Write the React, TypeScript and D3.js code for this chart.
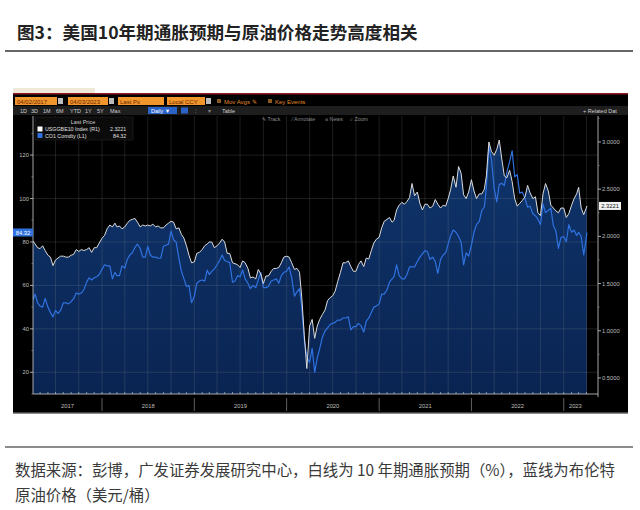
import React from 'react';
import * as d3 from 'd3';

const TITLE = '图3：美国10年期通胀预期与原油价格走势高度相关';
const NOTE_1 = '数据来源：彭博，广发证券发展研究中心，白线为 10 年期通胀预期（%），蓝线为布伦特';
const NOTE_2 = '原油价格（美元/桶）';

const START = '2017-04-03';
const END = '2023-04-03';
const SAMPLE_DAYS = [1, 11, 21];
const yearLabels = ['2017', '2018', '2019', '2020', '2021', '2022', '2023'];
const leftTicks = [20, 40, 60, 80, 100, 120];
const rightTicks = [0.5, 1.0, 1.5, 2.0, 2.5, 3.0];
const legendNames = ['USGGBE10 Index  (R1)', 'CO1 Comdty  (L1)'];

// Brent (CO1 Comdty), USD/bbl, sampled on the 1st / 11th / 21st of each month
const brent2017 = [53.5, 56, 52, 50.5, 50, 54, 50, 47.5, 45.5, 48.5, 47, 48.5, 52, 52, 51.5, 52.5, 54, 56.5, 56, 56.5, 58, 61.5, 63.5, 62.5, 63.5, 64, 65];
const brent2018 = [67.5, 69.5, 69, 69, 63, 66, 64.5, 64.5, 69, 68, 72, 74, 75, 77.5, 79, 77, 73, 73, 78, 74, 73, 73, 72.5, 72.5, 78, 78.5, 79, 85, 81, 80, 72.5, 66.5, 63, 59.5, 60, 52];
const brent2019 = [55, 61, 62, 62.5, 62, 67, 65, 66.5, 67.5, 69.5, 71.5, 74, 71.5, 71, 70.5, 61.5, 62, 64.5, 64, 67, 63, 61, 58.5, 60, 59, 62.5, 66, 59, 59, 59.5, 62, 62.5, 63, 61, 64.5, 66];
const brent2020 = [66.5, 68.5, 63.5, 55, 57, 58.5, 50, 35, 27, 24.5, 31, 20, 26.5, 31, 36, 39, 40.5, 42, 42.5, 43, 44, 44, 45, 45, 45.5, 39.5, 41, 41, 42.5, 41.5, 38.5, 43.5, 45, 47.5, 50, 50.5];
const brent2021 = [51.5, 56, 56, 58, 61.5, 63, 64, 69.5, 64.5, 63, 63, 65, 68.5, 68.5, 68.5, 71, 73, 74.5, 76, 75.5, 72, 73, 71, 65.5, 72, 74, 75, 79, 83, 85.5, 84.5, 82.5, 80, 69.5, 75, 73.5];
const brent2022 = [78.5, 84.5, 88, 89.5, 94.5, 96, 105, 124, 118, 104.5, 98.5, 106.5, 107, 106, 112, 117, 122, 110, 111, 102.5, 103, 100, 96, 96.5, 93, 92, 90.5, 88, 97.5, 93.5, 94.5, 95.5, 87.5, 85, 77, 82];
const brent2023 = [82.5, 80.1, 88, 84.5, 85.5, 83, 84.5, 82.5, 74];
const brentLast = 84.32;

// 10Y breakeven (USGGBE10 Index), %, same sampling
const bei2017 = [1.95, 1.92, 1.88, 1.87, 1.9, 1.85, 1.8, 1.78, 1.69, 1.75, 1.77, 1.79, 1.79, 1.78, 1.78, 1.8, 1.81, 1.86, 1.84, 1.86, 1.85, 1.86, 1.88, 1.83, 1.88, 1.88, 1.93];
const bei2018 = [1.98, 2.01, 2.08, 2.12, 2.1, 2.14, 2.1, 2.11, 2.08, 2.1, 2.14, 2.17, 2.18, 2.19, 2.15, 2.1, 2.12, 2.11, 2.12, 2.11, 2.13, 2.1, 2.11, 2.09, 2.09, 2.12, 2.14, 2.16, 2.15, 2.08, 2.09, 2.02, 1.98, 1.9, 1.8, 1.72];
const bei2019 = [1.73, 1.82, 1.83, 1.86, 1.9, 1.92, 1.94, 1.94, 1.88, 1.9, 1.93, 1.97, 1.94, 1.82, 1.82, 1.72, 1.71, 1.7, 1.67, 1.74, 1.72, 1.66, 1.56, 1.57, 1.55, 1.65, 1.6, 1.5, 1.58, 1.58, 1.63, 1.66, 1.66, 1.67, 1.72, 1.78];
const bei2020 = [1.79, 1.78, 1.72, 1.65, 1.66, 1.62, 1.35, 0.95, 0.6, 1.05, 1.12, 0.92, 1.05, 1.12, 1.17, 1.22, 1.32, 1.35, 1.37, 1.42, 1.52, 1.62, 1.72, 1.72, 1.74, 1.68, 1.63, 1.63, 1.7, 1.74, 1.68, 1.77, 1.76, 1.85, 1.93, 1.97];
const bei2021 = [1.99, 2.09, 2.16, 2.18, 2.2, 2.15, 2.17, 2.28, 2.33, 2.36, 2.34, 2.37, 2.41, 2.56, 2.43, 2.47, 2.35, 2.28, 2.34, 2.34, 2.3, 2.32, 2.39, 2.34, 2.3, 2.33, 2.32, 2.4, 2.5, 2.64, 2.52, 2.74, 2.67, 2.44, 2.4, 2.47];
const bei2022 = [2.6, 2.48, 2.4, 2.45, 2.45, 2.5, 2.64, 3.0, 2.9, 2.86, 2.92, 3.02, 2.82, 2.64, 2.62, 2.7, 2.58, 2.4, 2.32, 2.35, 2.38, 2.42, 2.54, 2.46, 2.4, 2.42, 2.25, 2.22, 2.45, 2.56, 2.48, 2.33, 2.3, 2.27, 2.25, 2.3];
const bei2023 = [2.3, 2.2, 2.24, 2.33, 2.4, 2.45, 2.52, 2.3, 2.23];
const beiLast = 2.3221;

const brent = [...brent2017, ...brent2018, ...brent2019, ...brent2020, ...brent2021, ...brent2022, ...brent2023, brentLast];
const bei = [...bei2017, ...bei2018, ...bei2019, ...bei2020, ...bei2021, ...bei2022, ...bei2023, beiLast];

const parse = d3.timeParse('%Y-%m-%d');

function buildDates(): Date[] {
  const s = parse(START) as Date;
  const e = parse(END) as Date;
  const months = d3.timeMonth.range(new Date(s.getFullYear(), s.getMonth(), 1), new Date(e.getFullYear(), e.getMonth(), 1));
  const ds = months.flatMap((m) => SAMPLE_DAYS.map((d) => new Date(m.getFullYear(), m.getMonth(), d)));
  ds[0] = s;
  ds.push(e);
  return ds;
}

const SMALL = "'Liberation Sans', Arial, sans-serif";
const CJK = "'Noto Sans CJK SC', sans-serif";

export default function App() {
  const W = 640;
  const H = 510;
  const box = { x0: 13, x1: 628, y0: 93, y1: 414 };
  const plot = { left: 33, right: 587, top: 116, bottom: 394, axisR: 598 };

  const dates = buildDates();
  const start = parse(START) as Date;
  const end = parse(END) as Date;

  const x = d3.scaleTime().domain([start, end]).range([plot.left, plot.right]);
  const yL = d3.scaleLinear().domain([10, 138]).range([plot.bottom, plot.top]);
  const yR = d3.scaleLinear().domain([0.33, 3.275]).range([plot.bottom, plot.top]);

  const beiPts: [Date, number][] = dates.map((d, i) => [d, bei[i]]);
  const brentPts: [Date, number][] = dates.map((d, i) => [d, brent[i]]);

  const area = d3
    .area<[Date, number]>()
    .x((d) => x(d[0]))
    .y0(plot.bottom)
    .y1((d) => yR(d[1]));
  const lineR = d3
    .line<[Date, number]>()
    .x((d) => x(d[0]))
    .y((d) => yR(d[1]));
  const lineL = d3
    .line<[Date, number]>()
    .x((d) => x(d[0]))
    .y((d) => yL(d[1]));

  const quarters = d3.timeMonth.every(3)!.range(start, end);
  const monthTicks = d3.timeMonth.range(start, end);
  const yearStarts = d3.timeYear.range(start, end);
  const yearBounds = [plot.left, ...yearStarts.map((d) => x(d)), plot.right];
  const leftMinor = d3.range(10, 140, 10).filter((v) => v % 20 !== 0);
  const rightMinor = d3.range(0.5, 3.26, 0.25).filter((v) => Math.abs(v * 2 - Math.round(v * 2)) > 0.01);
  const fmtR = d3.format('.4f');

  const gridColor = 'rgba(150,150,150,0.28)';

  return (
    <svg width={W} height={H} style={{ position: 'absolute', left: 0, top: 0, background: '#fff' }}>
      <defs>
        <linearGradient id="fillG" x1="0" y1="0" x2="0" y2="1">
          <stop offset="0" stopColor="#0f356c" />
          <stop offset="1" stopColor="#0a2452" />
        </linearGradient>
        <clipPath id="plotClip">
          <rect x={plot.left} y={plot.top} width={plot.right - plot.left + 2} height={plot.bottom - plot.top} />
        </clipPath>
      </defs>

      {/* title */}
      <text x={17} y={39} fontFamily={CJK} fontWeight={700} fontSize={17.6} fill="#222">
        {TITLE}
      </text>
      <line x1={5} x2={633} y1={51} y2={51} stroke="#666" strokeWidth={2} />

      {/* screenshot frame */}
      <rect x={box.x0} y={88} width={82} height={5} fill="#f1e9d8" />
      <rect x={box.x0} y={box.y0} width={box.x1 - box.x0} height={box.y1 - box.y0} fill="#000" />
      <rect x={box.x0} y={box.y0} width={box.x1 - box.x0} height={1.5} fill="#8e1b22" />
      <rect x={box.x0} y={box.y1 - 1.5} width={box.x1 - box.x0} height={1.5} fill="#8a8a8a" />

      {/* toolbar row 1 */}
      {[
        [15, 42, '04/02/2017'],
        [68, 40, '04/03/2023'],
        [118, 46, 'Last Px'],
        [167, 38, 'Local CCY'],
      ].map(([bx, bw, t], i) => (
        <g key={'tb' + i}>
          <rect x={bx as number} y={97} width={bw as number} height={8} fill="#f0962c" />
          <text x={(bx as number) + 2} y={103.5} fontSize={6} fontFamily={SMALL} fill="#6b2400">
            {t}
          </text>
        </g>
      ))}
      {[58, 109, 206].map((ix, i) => (
        <rect key={'ic' + i} x={ix} y={98} width={5} height={6} fill="#bbb" />
      ))}
      <rect x={217} y={99} width={4} height={4} fill="#8a5a20" />
      <text x={224} y={103.5} fontSize={6} fontFamily={SMALL} fill="#e08a2a">
        Mov Avgs ✎
      </text>
      <rect x={268} y={99} width={4} height={4} fill="#8a5a20" />
      <text x={275} y={103.5} fontSize={6} fontFamily={SMALL} fill="#e08a2a">
        Key Events
      </text>

      {/* toolbar row 2 */}
      <rect x={box.x0} y={106} width={box.x1 - box.x0} height={9} fill="#1e1e1e" />
      {[
        [20, '1D'],
        [31, '3D'],
        [43, '1M'],
        [56, '6M'],
        [70, 'YTD'],
        [85, '1Y'],
        [97, '5Y'],
        [110, 'Max'],
      ].map(([tx, t], i) => (
        <text key={'r2' + i} x={tx as number} y={112.8} fontSize={5.5} fontFamily={SMALL} fill="#cfcfcf">
          {t}
        </text>
      ))}
      <rect x={148} y={107} width={29} height={7} fill="#2a62c8" />
      <text x={151} y={112.8} fontSize={5.5} fontFamily={SMALL} fill="#fff">
        Daily ▼
      </text>
      <rect x={181} y={107.5} width={7} height={6} fill="#2a62c8" />
      <text x={195} y={112.8} fontSize={5.5} fontFamily={SMALL} fill="#888">
        ⫶
      </text>
      <text x={208} y={112.8} fontSize={5.5} fontFamily={SMALL} fill="#888">
        ▾
      </text>
      <text x={222} y={112.8} fontSize={5.5} fontFamily={SMALL} fill="#cfcfcf">
        Table
      </text>
      <text x={583} y={112.8} fontSize={5.5} fontFamily={SMALL} fill="#cfcfcf">
        + Related Dat
      </text>

      {/* plot */}
      <g clipPath="url(#plotClip)">
        <path d={area(beiPts) ?? ''} fill="url(#fillG)" />
      </g>
      {quarters.map((q, i) => (
        <line key={'vq' + i} x1={x(q)} x2={x(q)} y1={plot.top} y2={plot.bottom} stroke={gridColor} strokeWidth={0.7} />
      ))}
      {leftTicks.map((v) => (
        <line key={'hg' + v} x1={plot.left} x2={plot.axisR} y1={yL(v)} y2={yL(v)} stroke={gridColor} strokeWidth={0.7} />
      ))}
      <g clipPath="url(#plotClip)">
        <path d={lineL(brentPts) ?? ''} fill="none" stroke="#2f72e0" strokeWidth={1.2} strokeLinejoin="round" />
        <path d={lineR(beiPts) ?? ''} fill="none" stroke="#dcdcdc" strokeWidth={1} strokeLinejoin="round" />
      </g>

      {/* left axis */}
      <line x1={plot.left} x2={plot.left} y1={plot.top} y2={plot.bottom} stroke="#cfcfcf" strokeWidth={0.8} />
      {leftTicks.map((v) => (
        <g key={'lt' + v}>
          <line x1={plot.left - 3} x2={plot.left} y1={yL(v)} y2={yL(v)} stroke="#cfcfcf" strokeWidth={0.8} />
          <text x={plot.left - 4} y={yL(v) + 2} textAnchor="end" fontSize={5.8} fontFamily={SMALL} fill="#bdbdbd">
            {v}
          </text>
        </g>
      ))}
      {leftMinor.map((v) => (
        <line key={'lm' + v} x1={plot.left - 1.5} x2={plot.left} y1={yL(v)} y2={yL(v)} stroke="#aaa" strokeWidth={0.6} />
      ))}

      {/* right axis */}
      <line x1={plot.axisR} x2={plot.axisR} y1={plot.top} y2={plot.bottom + 3} stroke="#cfcfcf" strokeWidth={0.8} />
      {rightTicks.map((v) => (
        <g key={'rt' + v}>
          <line x1={plot.axisR} x2={plot.axisR + 3} y1={yR(v)} y2={yR(v)} stroke="#cfcfcf" strokeWidth={0.8} />
          <text x={plot.axisR + 4} y={yR(v) + 2} fontSize={5.8} fontFamily={SMALL} fill="#bdbdbd">
            {fmtR(v)}
          </text>
        </g>
      ))}
      {rightMinor.map((v) => (
        <line key={'rm' + v} x1={plot.axisR} x2={plot.axisR + 1.5} y1={yR(v)} y2={yR(v)} stroke="#aaa" strokeWidth={0.6} />
      ))}

      {/* x axis */}
      <line x1={plot.left} x2={plot.axisR} y1={plot.bottom} y2={plot.bottom} stroke="#cfcfcf" strokeWidth={0.8} />
      {monthTicks.map((m, i) => (
        <line key={'mt' + i} x1={x(m)} x2={x(m)} y1={plot.bottom} y2={plot.bottom - 2} stroke="#cfcfcf" strokeWidth={0.6} />
      ))}
      {yearStarts.map((d, i) => (
        <line key={'ys' + i} x1={x(d)} x2={x(d)} y1={398} y2={411} stroke="#777" strokeWidth={0.8} />
      ))}
      {yearLabels.map((t, i) => (
        <text
          key={'yl' + t}
          x={(yearBounds[i] + yearBounds[i + 1]) / 2}
          y={408}
          textAnchor="middle"
          fontSize={5.8}
          fontFamily={SMALL}
          fill="#bdbdbd"
        >
          {t}
        </text>
      ))}

      {/* last value tags */}
      <rect x={13} y={228.5} width={20} height={8} fill="#2f72e0" />
      <text x={23} y={234.5} textAnchor="middle" fontSize={5.8} fontFamily={SMALL} fill="#fff">
        {brentLast.toFixed(2)}
      </text>
      <rect x={599} y={yR(beiLast) - 4} width={22} height={8} fill="#f2f2f2" />
      <text x={610} y={yR(beiLast) + 2} textAnchor="middle" fontSize={5.8} fontFamily={SMALL} fill="#111">
        {beiLast.toFixed(4)}
      </text>

      {/* annotation tools */}
      <text x={262} y={121} fontSize={5.3} fontFamily={SMALL} fill="#8a8a8a">
        ✎ Track
      </text>
      <text x={292} y={121} fontSize={5.3} fontFamily={SMALL} fill="#8a8a8a">
        ⁄ Annotate
      </text>
      <text x={325} y={121} fontSize={5.3} fontFamily={SMALL} fill="#8a8a8a">
        ≡ News
      </text>
      <text x={350} y={121} fontSize={5.3} fontFamily={SMALL} fill="#8a8a8a">
        ⌕ Zoom
      </text>

      {/* legend */}
      <rect x={35} y={117} width={98} height={23} fill="#0b0b0b" stroke="#2a2a2a" strokeWidth={0.5} />
      <text x={83} y={123.5} textAnchor="middle" fontSize={5.5} fontFamily={SMALL} fill="#cfcfcf">
        Last Price
      </text>
      <rect x={37.5} y={126.5} width={5} height={5} fill="#fff" />
      <text x={45} y={131} fontSize={5.3} fontFamily={SMALL} fill="#e0e0e0">
        {legendNames[0]}
      </text>
      <text x={110} y={131} fontSize={5.3} fontFamily={SMALL} fill="#e0e0e0">
        {beiLast.toFixed(4)}
      </text>
      <rect x={37.5} y={133} width={5} height={5} fill="#2f72e0" />
      <text x={45} y={137.5} fontSize={5.3} fontFamily={SMALL} fill="#e0e0e0">
        {legendNames[1]}
      </text>
      <text x={113} y={137.5} fontSize={5.3} fontFamily={SMALL} fill="#e0e0e0">
        {brentLast.toFixed(2)}
      </text>

      {/* footer */}
      <line x1={5} x2={633} y1={447} y2={447} stroke="#666" strokeWidth={1.5} />
      <text x={15} y={476} fontFamily={CJK} fontSize={15.4} fill="#3a3a3a">
        {NOTE_1}
      </text>
      <text x={15} y={501} fontFamily={CJK} fontSize={15.4} fill="#3a3a3a">
        {NOTE_2}
      </text>
    </svg>
  );
}
